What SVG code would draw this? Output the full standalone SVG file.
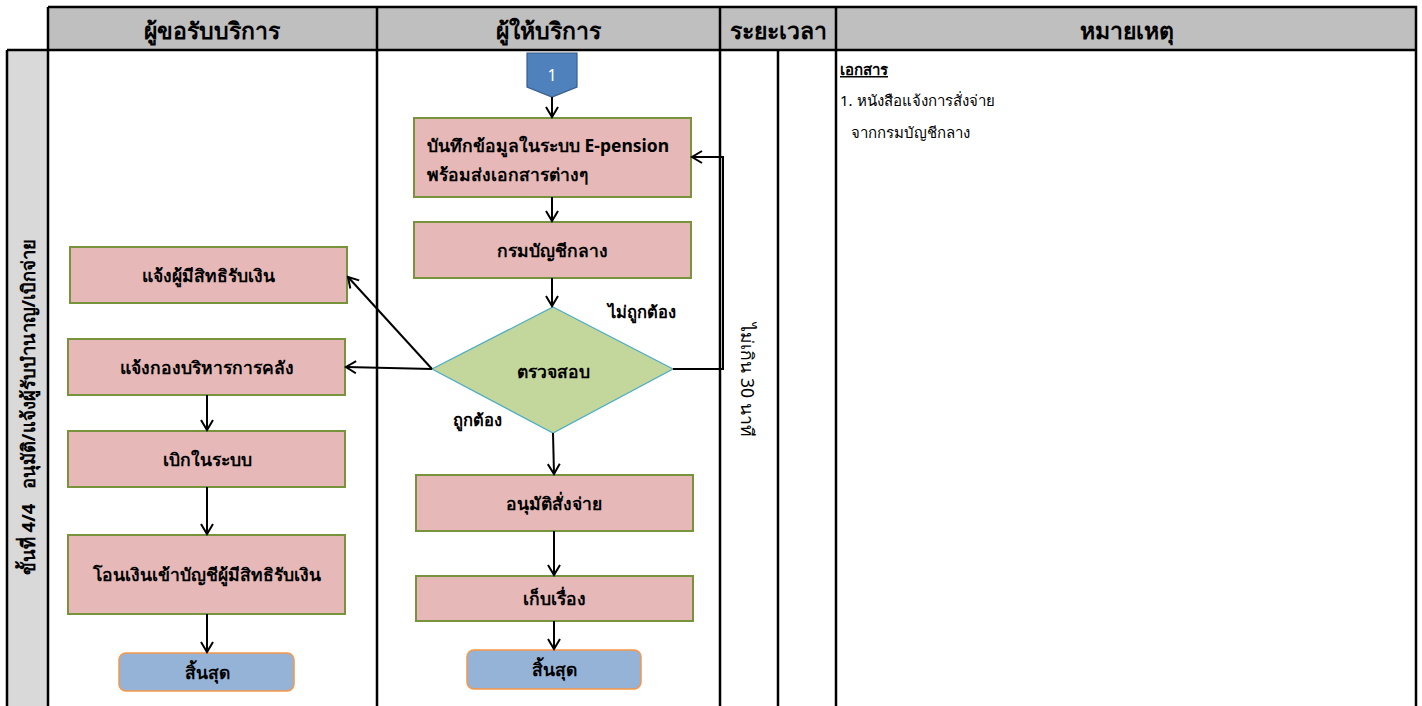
<svg xmlns="http://www.w3.org/2000/svg" width="1422" height="706" viewBox="0 0 1422 706">
<defs>
<marker id="arr" markerUnits="userSpaceOnUse" markerWidth="14" markerHeight="14" refX="12" refY="7" orient="auto">
<path d="M2,1 L12,7 L2,13" fill="none" stroke="#000" stroke-width="2"/>
</marker>
<style>
.grid{stroke:#000;stroke-width:2.5;fill:none}
.hdr{fill:#bfbfbf}
.hdrt{font-family:"Noto Sans","DejaVu Sans",sans-serif;font-size:23px;font-weight:bold;fill:#000;text-anchor:middle}
.box{fill:#e6b8b7;stroke:#77933c;stroke-width:2}
.term{fill:#95b3d7;stroke:#f79646;stroke-width:1.5}
.dia{fill:#c3d69b;stroke:#4bacc6;stroke-width:1.2}
.bt{font-family:"Noto Sans","DejaVu Sans",sans-serif;font-size:17.5px;font-weight:bold;fill:#000;text-anchor:middle}
.btl{font-family:"Noto Sans","DejaVu Sans",sans-serif;font-size:17.5px;font-weight:bold;fill:#000}
.side{font-family:"Noto Sans","DejaVu Sans",sans-serif;font-size:18.5px;font-weight:bold;fill:#000;text-anchor:middle}
.time{font-family:"Noto Sans","DejaVu Sans",sans-serif;font-size:17.5px;fill:#000;text-anchor:middle}
.lbl{font-family:"Noto Sans","DejaVu Sans",sans-serif;font-size:16.5px;font-weight:bold;fill:#000}
.nt{font-family:"Noto Sans","DejaVu Sans",sans-serif;font-size:15px;fill:#000}
.c{stroke:#000;stroke-width:2;fill:none;marker-end:url(#arr)}
</style>
</defs>
<rect width="1422" height="706" fill="#fff"/>
<g id="table">
<rect class="hdr" x="47" y="7" width="1369" height="43"/>
<rect x="7" y="50" width="41" height="660" fill="#d9d9d9"/>
<path class="grid" d="M48,7 H1416 V710 M48,7 V710 M7,50 H1416 M7,50 V710 M377,7 V710 M720,7 V710 M836,7 V710 M778,50 V710"/>
<text class="hdrt" x="212" y="39">ผู้ขอรับบริการ</text>
<text class="hdrt" x="548" y="39">ผู้ให้บริการ</text>
<text class="hdrt" x="778" y="39">ระยะเวลา</text>
<text class="hdrt" x="1127" y="39">หมายเหตุ</text>
<text class="side" transform="translate(35,407) rotate(-90)">ขั้นที่ 4/4&#160;&#160;&#160;อนุมัติ/แจ้งผู้รับบำนาญ/เบิกจ่าย</text>
<text class="time" transform="translate(741,380) rotate(90)">ไม่เกิน 30 นาที</text>
</g>
<g id="notes">
<text class="nt" x="840" y="75" font-weight="bold" text-decoration="underline">เอกสาร</text>
<text class="nt" x="840" y="106">1. หนังสือแจ้งการสั่งจ่าย</text>
<text class="nt" x="851" y="138">จากกรมบัญชีกลาง</text>
</g>
<g id="n-connector1">
<path d="M527,53 H577 V87 L552,97 L527,87 Z" fill="#4f81bd" stroke="#385d8a" stroke-width="1.2"/>
<text x="552" y="81" font-family="Noto Sans, DejaVu Sans, sans-serif" font-size="16" fill="#fff" text-anchor="middle">1</text>
</g>
<g id="n-record">
<rect class="box" x="414" y="118" width="277" height="79"/>
<text class="btl" x="427" y="152">บันทึกข้อมูลในระบบ E-pension</text>
<text class="btl" x="427" y="181">พร้อมส่งเอกสารต่างๆ</text>
</g>
<g id="n-cgd">
<rect class="box" x="414" y="222" width="277" height="56"/>
<text class="bt" x="552" y="257">กรมบัญชีกลาง</text>
</g>
<g id="n-check">
<path class="dia" d="M553,307 L673,369 L553,433 L432,369 Z"/>
<text class="bt" x="553" y="378">ตรวจสอบ</text>
</g>
<g id="n-approve">
<rect class="box" x="416" y="475" width="277" height="56"/>
<text class="bt" x="554" y="510">อนุมัติสั่งจ่าย</text>
</g>
<g id="n-store">
<rect class="box" x="416" y="576" width="277" height="45"/>
<text class="bt" x="554" y="605">เก็บเรื่อง</text>
</g>
<g id="n-end2">
<rect class="term" x="467" y="650" width="174" height="39" rx="7"/>
<text class="bt" x="554" y="676">สิ้นสุด</text>
</g>
<g id="n-notify">
<rect class="box" x="70" y="247" width="277" height="56"/>
<text class="bt" x="208" y="282">แจ้งผู้มีสิทธิรับเงิน</text>
</g>
<g id="n-treasury">
<rect class="box" x="68" y="339" width="277" height="56"/>
<text class="bt" x="207" y="374">แจ้งกองบริหารการคลัง</text>
</g>
<g id="n-withdraw">
<rect class="box" x="68" y="431" width="277" height="56"/>
<text class="bt" x="207" y="466">เบิกในระบบ</text>
</g>
<g id="n-transfer">
<rect class="box" x="68" y="535" width="277" height="79"/>
<text class="bt" x="207" y="581">โอนเงินเข้าบัญชีผู้มีสิทธิรับเงิน</text>
</g>
<g id="n-end1">
<rect class="term" x="119" y="653" width="175" height="38" rx="7"/>
<text class="bt" x="207" y="679">สิ้นสุด</text>
</g>
<g id="connectors">
<line class="c" x1="552" y1="97" x2="552" y2="117"/>
<line class="c" x1="552" y1="197" x2="552" y2="221"/>
<line class="c" x1="552" y1="278" x2="552" y2="306"/>
<polyline class="c" points="673,369 723,369 723,157 692,157"/>
<line class="c" x1="432" y1="369" x2="346" y2="367"/>
<line class="c" x1="432" y1="369" x2="348" y2="277"/>
<line class="c" x1="553" y1="433" x2="554" y2="474"/>
<line class="c" x1="554" y1="531" x2="554" y2="575"/>
<line class="c" x1="554" y1="621" x2="554" y2="649"/>
<line class="c" x1="207" y1="395" x2="207" y2="430"/>
<line class="c" x1="207" y1="487" x2="207" y2="534"/>
<line class="c" x1="207" y1="614" x2="207" y2="652"/>
<text class="lbl" x="608" y="318">ไม่ถูกต้อง</text>
<text class="lbl" x="453" y="426">ถูกต้อง</text>
</g>
</svg>
